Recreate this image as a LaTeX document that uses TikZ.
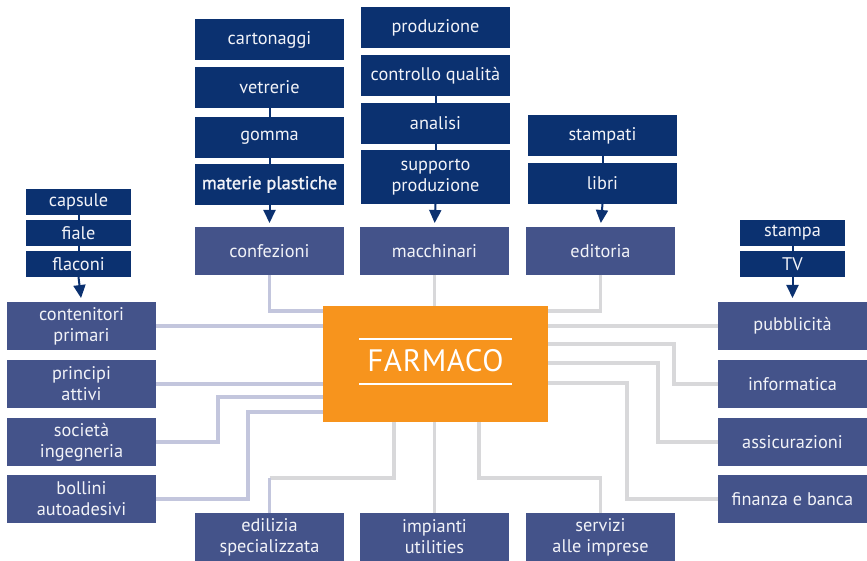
\documentclass[tikz,border=0pt]{standalone}
\usepackage{fontspec}
\setmainfont{PT Sans}
\newfontfamily\farfont[LetterSpace=2]{PT Sans}
\newfontfamily\heavyfont[FakeBold=1.3]{PT Sans}
\usetikzlibrary{arrows.meta}
\definecolor{navy}{HTML}{0B3170}
\definecolor{slate}{HTML}{44538A}
\definecolor{farorange}{HTML}{F7941D}
\definecolor{lavline}{HTML}{C3C6DD}
\definecolor{greyline}{HTML}{D8D8DA}
\definecolor{boxtext}{HTML}{F2F3F8}
\tikzset{
  every node/.style={inner sep=0pt, outer sep=0pt, align=center, text=boxtext,
    font=\fontsize{18.3}{21}\selectfont},
  darkbox/.style={fill=navy, minimum width=149pt, minimum height=41pt},
  smallbox/.style={fill=navy, minimum width=105pt, minimum height=26pt},
  midbox/.style={fill=slate, minimum width=149pt, minimum height=48pt},
  spine/.style={draw=navy, line width=2pt},
  feed/.style={draw=navy, line width=2pt, shorten >=4pt,
    -{Triangle[width=12pt,length=13pt]}},
  lavlink/.style={draw=lavline, line width=3.5pt, line join=miter},
  greylink/.style={draw=greyline, line width=3.5pt, line join=miter},
}
\begin{document}
\begin{tikzpicture}[x=1pt,y=-1pt]
\useasboundingbox (0,0) rectangle (867,561);

% central node
\node[fill=farorange, minimum width=225pt, minimum height=116pt] (far) at (435.5,364) {};
\node[font=\farfont\fontsize{31}{31}\selectfont, text=white] (fartext) at (435.5,361) {FARMACO};
\draw[white, line width=1.6pt] ([xshift=-76.5pt,yshift=25pt]far.center) -- ([xshift=76.5pt,yshift=25pt]far.center);
\draw[white, line width=1.6pt] ([xshift=-76.5pt,yshift=-20pt]far.center) -- ([xshift=76.5pt,yshift=-20pt]far.center);

% packaging column
\node[darkbox] (cart) at (269.5,39.5) {cartonaggi};
\node[darkbox] (vetr) at (269.5,87.5) {vetrerie};
\node[darkbox] (gomma) at (269.5,137.5) {gomma};
\node[darkbox, font=\heavyfont\fontsize{18.3}{21}\selectfont] (mat) at (269.5,184.5) {materie plastiche};
\node[midbox] (conf) at (269.5,251) {confezioni};

% machinery column
\node[darkbox] (prod) at (435.5,27.5) {produzione};
\node[darkbox] (ctrl) at (435.5,75.5) {controllo qualità};
\node[darkbox] (anal) at (435.5,123.5) {analisi};
\node[darkbox, minimum height=54pt] (supp) at (435.5,177) {supporto\\produzione};
\node[midbox] (macc) at (434.5,251) {macchinari};

% publishing column
\node[darkbox] (stamp) at (602.5,135.5) {stampati};
\node[darkbox] (libri) at (602.5,183.5) {libri};
\node[midbox] (edit) at (600.5,251) {editoria};

% primary containers
\node[smallbox] (caps) at (78.5,202) {capsule};
\node[smallbox] (fiale) at (78.5,233) {fiale};
\node[smallbox] (flac) at (78.5,264) {flaconi};

% advertising
\node[smallbox] (stampa) at (792.5,233) {stampa};
\node[smallbox] (tv) at (792.5,264) {TV};

% left column
\node[midbox] (cont) at (81.5,326) {contenitori\\primari};
\node[midbox] (princ) at (81.5,384) {principi\\attivi};
\node[midbox] (soc) at (81.5,442) {società\\ingegneria};
\node[midbox] (boll) at (81.5,499) {bollini\\autoadesivi};

% right column
\node[midbox] (pubb) at (792.5,326) {pubblicità};
\node[midbox] (info) at (792.5,384) {informatica};
\node[midbox] (assic) at (792.5,442) {assicurazioni};
\node[midbox] (fin) at (792.5,499) {finanza e banca};

% bottom row
\node[midbox] (edil) at (269.5,537) {edilizia\\specializzata};
\node[midbox] (imp) at (434.5,537) {impianti\\utilities};
\node[midbox] (serv) at (600.5,537) {servizi\\alle imprese};

% supply stacks
\draw[spine] (vetr.south) -- (gomma.north);
\draw[spine] (gomma.south) -- (mat.north);
\draw[spine] (ctrl.south) -- (anal.north);
\draw[spine] (anal.south) -- (supp.north);
\draw[spine] (stamp.south) -- (libri.north);
\draw[spine] (caps.south) -- (fiale.north);
\draw[spine] (fiale.south) -- (flac.north);
\draw[spine] (stampa.south) -- (tv.north);
\draw[feed] (mat.south) -- (conf.north);
\draw[feed] (supp.south) -- (macc.north);
\draw[feed] (libri.south) -- (edit.north);
\draw[feed] (flac.south) -- (cont.north);
\draw[feed] (tv.south) -- (pubb.north);

% links to the central node, left side
\draw[lavlink] (conf.south) |- (far.west |- 0,311);
\draw[lavlink] (cont.east) -- (cont.east -| far.west);
\draw[lavlink] (princ.east) -- (princ.east -| far.west);
\draw[lavlink] (soc.east) -- ++(62,0) |- (far.west |- 0,397);
\draw[lavlink] (boll.east) -- ++(92,0) |- (far.west |- 0,412);
\draw[greylink] (edil.north) ++(0,-35) -| (far.south -| 394,0);
\draw[lavlink] (edil.north) -- ++(0,-35);

% links to the central node, top, bottom and right side
\draw[greylink] (macc.south) -- (macc.south |- far.north);
\draw[greylink] (edit.south) |- (far.east |- 0,311);
\draw[greylink] (imp.north) -- (imp.north |- far.south);
\draw[greylink] (serv.north) -- ++(0,-35) -| (far.south -| 479,0);
\draw[greylink] (pubb.west) -- (pubb.west -| far.east);
\draw[greylink] (info.west) -- ++(-44,0) |- (far.east |- 0,344);
\draw[greylink] (assic.west) -- ++(-60,0) |- (far.east |- 0,363);
\draw[greylink] (fin.west) -- ++(-91,0) |- (far.east |- 0,383);
\end{tikzpicture}
\end{document}
